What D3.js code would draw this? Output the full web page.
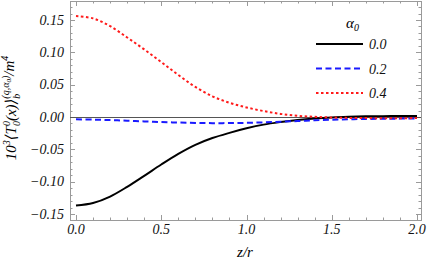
<!DOCTYPE html>
<html>
<head>
<meta charset="utf-8">
<script src="https://cdn.jsdelivr.net/npm/d3@7"></script>
<style>
  body { margin: 0; background: #fff; }
  svg { display: block; font-family: "Liberation Serif", "DejaVu Serif", serif; font-style: italic; }
</style>
</head>
<body>
<div id="chart"></div>
<script>
const zValues = [0, 0.1, 0.2, 0.3, 0.4, 0.5, 0.6, 0.7, 0.8, 0.9, 1.0,
                 1.1, 1.2, 1.3, 1.4, 1.5, 1.6, 1.7, 1.8, 1.9, 2.0];
const series00 = [-0.137, -0.133, -0.123, -0.108, -0.091, -0.0735, -0.057, -0.043, -0.0325, -0.0245, -0.0175,
                  -0.0118, -0.0078, -0.0046, -0.0023, -0.0007, 0.0003, 0.0010, 0.0013, 0.0015, 0.0016];
const series02 = [-0.0036, -0.0040, -0.0048, -0.0058, -0.0068, -0.0078, -0.0086, -0.0092, -0.0095, -0.0094, -0.0090,
                  -0.0083, -0.0073, -0.0062, -0.0051, -0.0042, -0.0035, -0.0030, -0.0027, -0.0025, -0.0023];
const series04 = [0.156, 0.1525, 0.1405, 0.123, 0.1045, 0.085, 0.065, 0.0465, 0.032, 0.022, 0.0148,
                  0.0092, 0.0048, 0.0018, 0.0002, -0.0008, -0.0014, -0.0017, -0.0018, -0.0018, -0.0017];
const legendLabels = ["0.0", "0.2", "0.4"];
const xTicks = [0, 0.5, 1.0, 1.5, 2.0];
const yTicks = [-0.15, -0.10, -0.05, 0.00, 0.05, 0.10, 0.15];

const W = 427, H = 263;
const frame = {left: 70, right: 421, top: 1, bottom: 220};

const svg = d3.select("#chart").append("svg")
    .attr("width", W)
    .attr("height", H);

const x = d3.scaleLinear().domain([0, 2]).range([76, 417]);
const y = d3.scaleLinear().domain([0, 0.15]).range([117, 20]);

// frame
svg.append("rect")
    .attr("x", frame.left + 0.5)
    .attr("y", frame.top + 0.5)
    .attr("width", frame.right - frame.left)
    .attr("height", frame.bottom - frame.top)
    .attr("fill", "none")
    .attr("stroke", "#9a9a9a")
    .attr("stroke-width", 1);

// ticks (inside frame, all four sides)
const tickColor = "#9a9a9a";
const xMinor = d3.range(0, 2.001, 0.1);
const yMinor = d3.range(-0.15, 0.1801, 0.01);
const ticks = svg.append("g").attr("stroke", tickColor).attr("stroke-width", 1);

xMinor.forEach(v => {
    const isMajor = Math.abs(v * 2 - Math.round(v * 2)) < 1e-6;
    const len = isMajor ? 5 : 2.5;
    const px = Math.round(x(v)) + 0.5;
    ticks.append("line").attr("x1", px).attr("x2", px)
        .attr("y1", frame.bottom).attr("y2", frame.bottom - len);
    ticks.append("line").attr("x1", px).attr("x2", px)
        .attr("y1", frame.top).attr("y2", frame.top + len);
});

yMinor.forEach(v => {
    const py = y(v);
    if (py < frame.top + 1 || py > frame.bottom) return;
    const isMajor = Math.abs(v * 20 - Math.round(v * 20)) < 1e-6;
    const len = isMajor ? 5 : 2.5;
    const p = Math.round(py) + 0.5;
    ticks.append("line").attr("y1", p).attr("y2", p)
        .attr("x1", frame.left).attr("x2", frame.left + len);
    ticks.append("line").attr("y1", p).attr("y2", p)
        .attr("x1", frame.right).attr("x2", frame.right - len);
});

// tick labels
svg.append("g").selectAll("text")
    .data(xTicks)
    .enter().append("text")
    .attr("x", d => x(d))
    .attr("y", 234)
    .attr("text-anchor", "middle")
    .attr("font-size", 14)
    .attr("fill", "#111")
    .text(d => d.toFixed(1));

svg.append("g").selectAll("text")
    .data(yTicks)
    .enter().append("text")
    .attr("x", 64)
    .attr("y", d => y(d) + 4.5)
    .attr("text-anchor", "end")
    .attr("font-size", 14)
    .attr("fill", "#111")
    .text(d => d3.format(".2f")(d).replace("-", "\u2212"));

// zero line
svg.append("line")
    .attr("x1", frame.left).attr("x2", frame.right)
    .attr("y1", Math.round(y(0)) + 0.5).attr("y2", Math.round(y(0)) + 0.5)
    .attr("stroke", "#555")
    .attr("stroke-width", 1);

// curves
const styles = [
    {values: series00, color: "#000000", dash: null},
    {values: series02, color: "#1a1aff", dash: "6,3.5"},
    {values: series04, color: "#ff1a1a", dash: "2.5,2.5"}
];

const line = d3.line()
    .x(d => x(d[0]))
    .y(d => y(d[1]))
    .curve(d3.curveCatmullRom.alpha(0.5));

styles.forEach(s => {
    svg.append("path")
        .datum(zValues.map((z, i) => [z, s.values[i]]))
        .attr("d", line)
        .attr("fill", "none")
        .attr("stroke", s.color)
        .attr("stroke-width", 2)
        .attr("stroke-dasharray", s.dash);
});

// legend
const legend = svg.append("g");
const lt = legend.append("text")
    .attr("x", 346)
    .attr("y", 28)
    .attr("font-size", 15);
lt.append("tspan").text("\u03b1");
lt.append("tspan").attr("dy", 3).attr("font-size", 10).text("0");

styles.forEach((s, i) => {
    const ly = 44 + i * 24.5;
    legend.append("line")
        .attr("x1", 316).attr("x2", 363)
        .attr("y1", ly).attr("y2", ly)
        .attr("stroke", s.color)
        .attr("stroke-width", 2)
        .attr("stroke-dasharray", s.dash);
    legend.append("text")
        .attr("x", 369)
        .attr("y", ly + 5)
        .attr("font-size", 14)
        .attr("fill", "#111")
        .text(legendLabels[i]);
});

// axis labels
svg.append("text")
    .attr("x", 245)
    .attr("y", 257)
    .attr("text-anchor", "middle")
    .attr("font-size", 15)
    .text("z/r");

const yl = svg.append("text")
    .attr("transform", "translate(16,108) rotate(-90)")
    .attr("text-anchor", "middle")
    .attr("font-size", 15);
yl.append("tspan").text("10");
yl.append("tspan").attr("dy", -6).attr("font-size", 10).text("3");
yl.append("tspan").attr("dy", 6).text("\u27e8T");
yl.append("tspan").attr("dy", -6).attr("font-size", 10).text("0");
yl.append("tspan").attr("dx", -5).attr("dy", 10).attr("font-size", 10).text("0");
yl.append("tspan").attr("dy", -4).text("(x)\u27e9");
yl.append("tspan").attr("dy", 4).attr("font-size", 10).text("b");
yl.append("tspan").attr("dx", -5).attr("dy", -11).attr("font-size", 10).text("(q,\u03b1");
yl.append("tspan").attr("dy", 2).attr("font-size", 7).text("0");
yl.append("tspan").attr("dy", -2).attr("font-size", 10).text(")");
yl.append("tspan").attr("dy", 5).text("/m");
yl.append("tspan").attr("dy", -6).attr("font-size", 10).text("4");
</script>
</body>
</html>
